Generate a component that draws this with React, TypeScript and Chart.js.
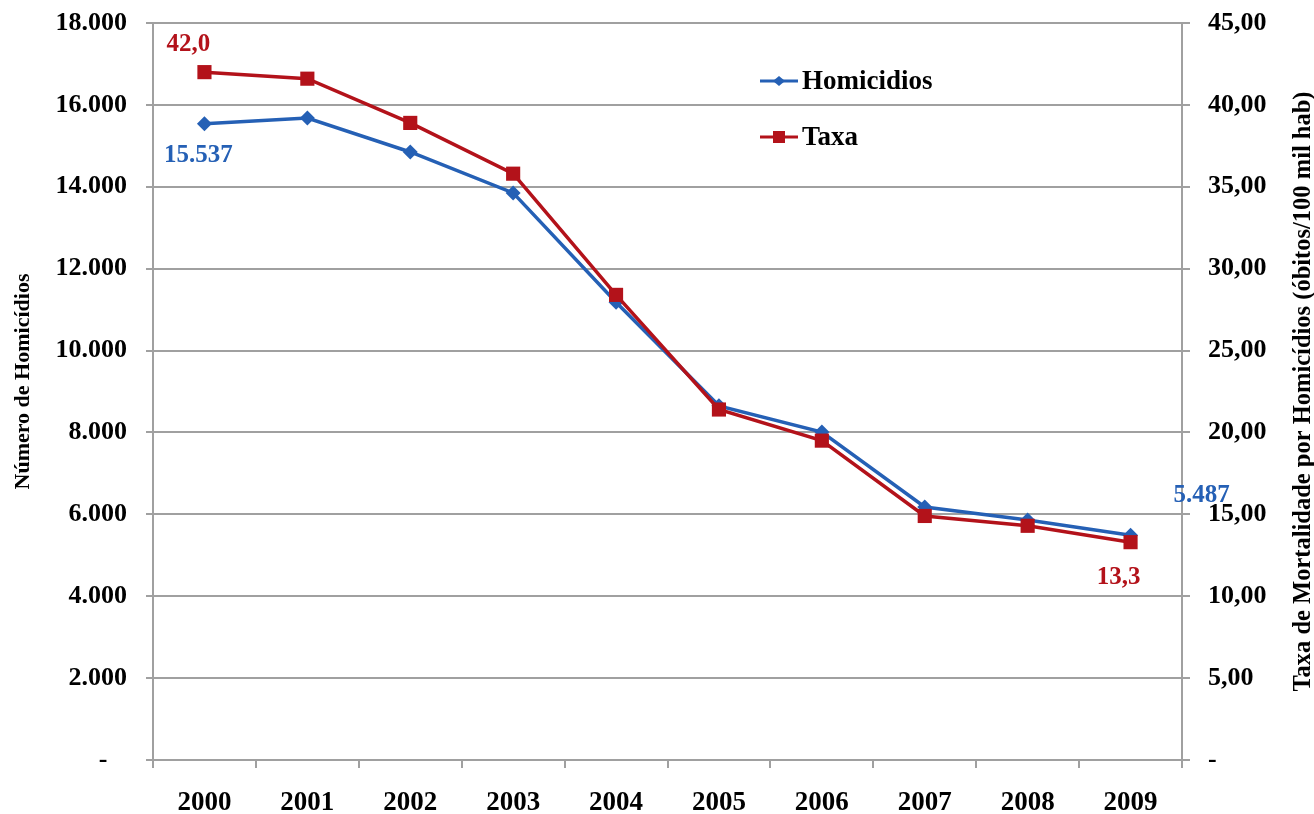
import React, { useEffect, useRef } from "react";
import { Chart, registerables } from "chart.js";

Chart.register(...registerables);

// Anos da série
const years = ["2000", "2001", "2002", "2003", "2004", "2005", "2006", "2007", "2008", "2009"];
// Número absoluto de homicídios por ano
const homicidios = [15537, 15680, 14850, 13850, 11180, 8650, 8010, 6180, 5860, 5487];
// Taxa de mortalidade por homicídios (óbitos por 100 mil habitantes)
const taxa = [42.0, 41.6, 38.9, 35.8, 28.4, 21.4, 19.5, 14.9, 14.3, 13.3];

const seriesNames = ["Homicidios", "Taxa"];
const leftAxisTitle = "Número de Homicídios";
const rightAxisTitle = "Taxa de Mortalidade por Homicídios (óbitos/100 mil hab)";

// Limites e passos dos eixos
const leftMax = 18000;
const leftStep = 2000;
const rightMax = 45;
const rightStep = 5;

const BLUE = "#2560b5";
const RED = "#b3121a";
const GRID = "#a0a0a0";
const FONT = '"Liberation Serif", "Times New Roman", serif';

const fmtThousands = (v: number) =>
  v === 0 ? "-   " : String(Math.round(v)).replace(/\B(?=(\d{3})+(?!\d))/g, ".");
const fmtRate2 = (v: number) => (v === 0 ? "-" : v.toFixed(2).replace(".", ","));
const fmtRate1 = (v: number) => v.toFixed(1).replace(".", ",");

function drawDiamond(ctx: CanvasRenderingContext2D, x: number, y: number, rx: number, ry: number) {
  ctx.beginPath();
  ctx.moveTo(x, y - ry);
  ctx.lineTo(x + rx, y);
  ctx.lineTo(x, y + ry);
  ctx.lineTo(x - rx, y);
  ctx.closePath();
  ctx.fill();
}

// Rótulos de valor, legenda e títulos dos eixos
const overlayPlugin = {
  id: "overlay",
  afterDatasetsDraw(chart: any) {
    const { ctx, chartArea } = chart;
    const hPts = chart.getDatasetMeta(0).data;
    const tPts = chart.getDatasetMeta(1).data;
    const last = years.length - 1;

    ctx.save();
    ctx.textAlign = "center";
    ctx.textBaseline = "middle";
    ctx.font = `bold 25px ${FONT}`;

    ctx.fillStyle = RED;
    ctx.fillText(fmtRate1(taxa[0]), tPts[0].x - 16, tPts[0].y - 28);
    ctx.fillText(fmtRate1(taxa[last]), tPts[last].x - 12, tPts[last].y + 35);

    ctx.fillStyle = BLUE;
    ctx.fillText(fmtThousands(homicidios[0]), hPts[0].x - 6, hPts[0].y + 32);
    ctx.fillText(fmtThousands(homicidios[last]), hPts[last].x + 71, hPts[last].y - 40);

    // Legenda
    const lx = chartArea.left + 607;
    const rows = [chartArea.top + 58, chartArea.top + 114];
    const colors = [BLUE, RED];
    rows.forEach((ry: number, i: number) => {
      ctx.strokeStyle = colors[i];
      ctx.fillStyle = colors[i];
      ctx.lineWidth = 3;
      ctx.beginPath();
      ctx.moveTo(lx, ry);
      ctx.lineTo(lx + 38, ry);
      ctx.stroke();
      if (i === 0) {
        drawDiamond(ctx, lx + 19, ry, 6, 5);
      } else {
        ctx.fillRect(lx + 13, ry - 6, 12, 12);
      }
      ctx.fillStyle = "#000";
      ctx.textAlign = "left";
      ctx.font = `bold 27px ${FONT}`;
      ctx.fillText(seriesNames[i], lx + 42, ry + 1);
    });

    // Títulos dos eixos
    const cy = (chartArea.top + chartArea.bottom) / 2;
    ctx.fillStyle = "#000";
    ctx.textAlign = "center";
    ctx.textBaseline = "middle";

    ctx.save();
    ctx.translate(23, cy - 10);
    ctx.rotate(-Math.PI / 2);
    ctx.font = `bold 22px ${FONT}`;
    ctx.fillText(leftAxisTitle, 0, 0);
    ctx.restore();

    ctx.save();
    ctx.translate(1304, cy);
    ctx.rotate(-Math.PI / 2);
    ctx.font = `bold 24.5px ${FONT}`;
    ctx.fillText(rightAxisTitle, 0, 0);
    ctx.restore();

    ctx.restore();
  },
};

// Remove a folga automática do primeiro rótulo para que a área do gráfico comece no padding definido
const fitVertical = (width: number) => (s: any) => {
  s.width = width;
  s.paddingTop = 0;
  s.paddingBottom = 0;
};

export default function App() {
  const canvasRef = useRef<HTMLCanvasElement | null>(null);

  useEffect(() => {
    const canvas = canvasRef.current;
    if (!canvas) return;
    const chart = new Chart(canvas, {
      type: "line",
      data: {
        labels: years,
        datasets: [
          {
            label: seriesNames[0],
            data: homicidios,
            yAxisID: "y",
            borderColor: BLUE,
            backgroundColor: BLUE,
            borderWidth: 3.5,
            pointStyle: "rectRot",
            pointRadius: 7.5,
            pointBorderWidth: 0,
            tension: 0,
            order: 1,
          },
          {
            label: seriesNames[1],
            data: taxa,
            yAxisID: "y1",
            borderColor: RED,
            backgroundColor: RED,
            borderWidth: 3.5,
            pointStyle: "rect",
            pointRadius: 10,
            pointBorderWidth: 0,
            tension: 0,
            order: 0,
          },
        ],
      },
      options: {
        responsive: false,
        animation: false,
        layout: { padding: { top: 23, left: 0, right: 0, bottom: 0 } },
        plugins: {
          legend: { display: false },
          tooltip: { enabled: false },
        },
        scales: {
          x: {
            offset: true,
            grid: {
              offset: true,
              drawOnChartArea: false,
              drawTicks: true,
              tickLength: 8,
              color: GRID,
              lineWidth: 2,
            },
            border: { display: true, color: GRID, width: 2 },
            ticks: {
              color: "#000",
              font: { family: FONT, size: 27, weight: "bold" },
              padding: 19,
              maxRotation: 0,
              autoSkip: false,
            },
            afterFit: (s: any) => {
              s.height = 54;
              s.paddingLeft = 0;
              s.paddingRight = 0;
            },
          },
          y: {
            position: "left",
            min: 0,
            max: leftMax,
            grid: { color: GRID, lineWidth: 2, tickLength: 7 },
            border: { display: true, color: GRID, width: 2 },
            ticks: {
              stepSize: leftStep,
              color: "#000",
              font: { family: FONT, size: 26, weight: "bold" },
              padding: 19,
              callback: (v: any) => fmtThousands(Number(v)),
            },
            afterFit: fitVertical(153),
          },
          y1: {
            position: "right",
            min: 0,
            max: rightMax,
            grid: { drawOnChartArea: false, color: GRID, lineWidth: 2, tickLength: 8 },
            border: { display: true, color: GRID, width: 2 },
            ticks: {
              stepSize: rightStep,
              color: "#000",
              font: { family: FONT, size: 26, weight: "bold" },
              padding: 18,
              callback: (v: any) => fmtRate2(Number(v)),
            },
            afterFit: fitVertical(132),
          },
        },
      },
      plugins: [overlayPlugin],
    });
    return () => chart.destroy();
  }, []);

  return (
    <div style={{ position: "fixed", left: 0, top: 0, width: 1314, height: 814, background: "#fff" }}>
      <canvas ref={canvasRef} width={1314} height={814} style={{ display: "block" }} />
    </div>
  );
}
